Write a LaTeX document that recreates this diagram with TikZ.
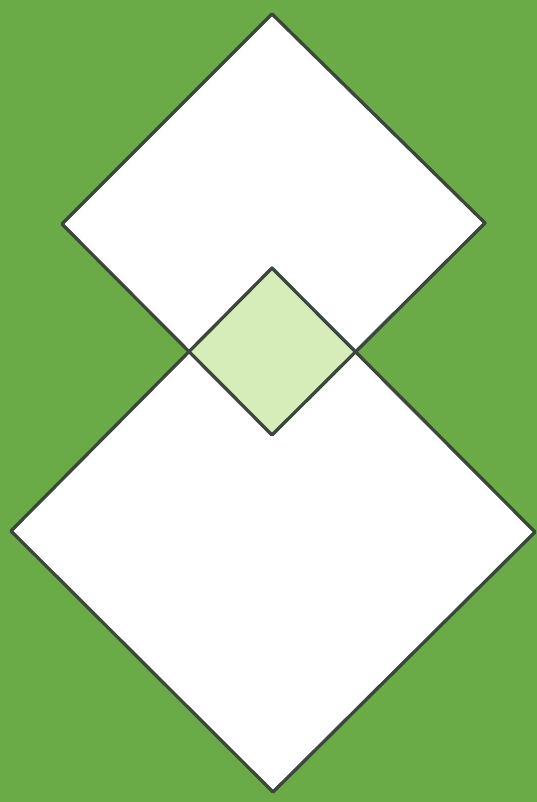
\documentclass[tikz,border=0pt]{standalone}
\usepackage{xcolor}
\usepackage{tikz}
\definecolor{field}{HTML}{6AAB48}
\definecolor{pale}{HTML}{D6ECB9}
\definecolor{ink}{HTML}{3A473A}

\begin{document}
\begin{tikzpicture}[x=1pt,y=-1pt,line join=round]
% background
\fill[field] (0,0) rectangle (537,802);
% upper square
\coordinate (uT) at (272,14);
\coordinate (uR) at (485,223);
\coordinate (uB) at (272,435);
\coordinate (uL) at (62,224);
% lower square
\coordinate (lT) at (272,268);
\coordinate (lR) at (535,532);
\coordinate (lB) at (273,792);
\coordinate (lL) at (11,531);
\fill[white] (uT)--(uR)--(uB)--(uL)--cycle;
\fill[white] (lT)--(lR)--(lB)--(lL)--cycle;
% overlap
\begin{scope}
\clip (uT)--(uR)--(uB)--(uL)--cycle;
\fill[pale] (lT)--(lR)--(lB)--(lL)--cycle;
\end{scope}
\draw[ink,line width=3.3pt] (uT)--(uR)--(uB)--(uL)--cycle;
\draw[ink,line width=3.3pt] (lT)--(lR)--(lB)--(lL)--cycle;
\end{tikzpicture}
\end{document}
